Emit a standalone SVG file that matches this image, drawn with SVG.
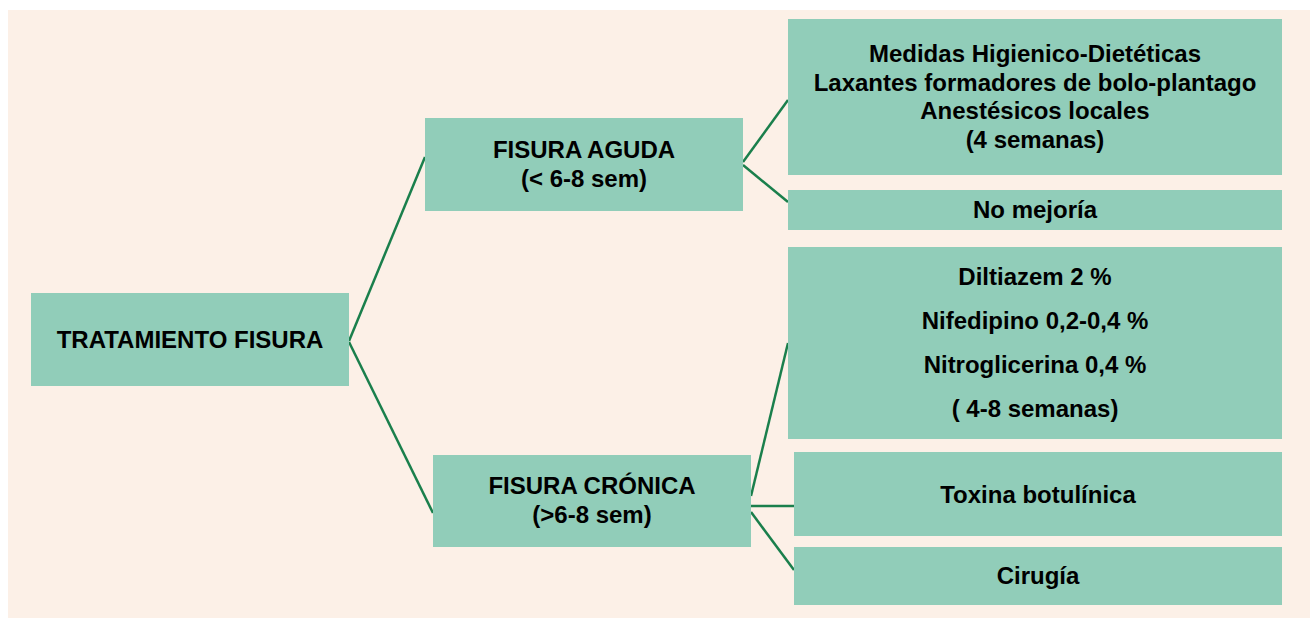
<svg xmlns="http://www.w3.org/2000/svg" width="1310" height="618" viewBox="0 0 1310 618">
<style>
.box{fill:#91cdb9}
.t{font-family:"Liberation Sans",Arial,sans-serif;font-weight:bold;font-size:24px;fill:#000;text-anchor:middle}
.c{stroke:#1a7f4c;stroke-width:2.5;fill:none}
</style>
<rect x="0" y="0" width="1310" height="618" fill="#ffffff"/>
<rect x="8" y="10" width="1302" height="608" fill="#fcf0e7"/>
<g id="connectors">
<line class="c" x1="349" y1="341" x2="425" y2="157"/>
<line class="c" x1="349" y1="342" x2="433" y2="513"/>
<line class="c" x1="743" y1="162" x2="788" y2="100"/>
<line class="c" x1="743" y1="165" x2="788" y2="202"/>
<line class="c" x1="751" y1="496" x2="788" y2="343"/>
<line class="c" x1="751" y1="506" x2="794" y2="506"/>
<line class="c" x1="751" y1="512" x2="794" y2="570"/>
</g>
<g id="tratamiento">
<rect class="box" x="31" y="293" width="318" height="93"/>
<text class="t" x="190" y="348">TRATAMIENTO FISURA</text>
</g>
<g id="aguda">
<rect class="box" x="425" y="118" width="318" height="93"/>
<text class="t" x="584" y="158">FISURA AGUDA</text>
<text class="t" x="584" y="187">(&lt; 6-8 sem)</text>
</g>
<g id="cronica">
<rect class="box" x="433" y="455" width="318" height="92"/>
<text class="t" x="592" y="494">FISURA CRÓNICA</text>
<text class="t" x="592" y="523">(&gt;6-8 sem)</text>
</g>
<g id="medidas">
<rect class="box" x="788" y="19" width="494" height="156"/>
<text class="t" x="1035" y="62">Medidas Higienico-Dietéticas</text>
<text class="t" x="1035" y="91">Laxantes formadores de bolo-plantago</text>
<text class="t" x="1035" y="119">Anestésicos locales</text>
<text class="t" x="1035" y="148">(4 semanas)</text>
</g>
<g id="nomejoria">
<rect class="box" x="788" y="190" width="494" height="40"/>
<text class="t" x="1035" y="218">No mejoría</text>
</g>
<g id="farmacos">
<rect class="box" x="788" y="247" width="494" height="192"/>
<text class="t" x="1035" y="285">Diltiazem 2 %</text>
<text class="t" x="1035" y="329">Nifedipino 0,2-0,4 %</text>
<text class="t" x="1035" y="373">Nitroglicerina 0,4 %</text>
<text class="t" x="1035" y="417">( 4-8 semanas)</text>
</g>
<g id="toxina">
<rect class="box" x="794" y="452" width="488" height="84"/>
<text class="t" x="1038" y="503">Toxina botulínica</text>
</g>
<g id="cirugia">
<rect class="box" x="794" y="547" width="488" height="58"/>
<text class="t" x="1038" y="584">Cirugía</text>
</g>
</svg>
